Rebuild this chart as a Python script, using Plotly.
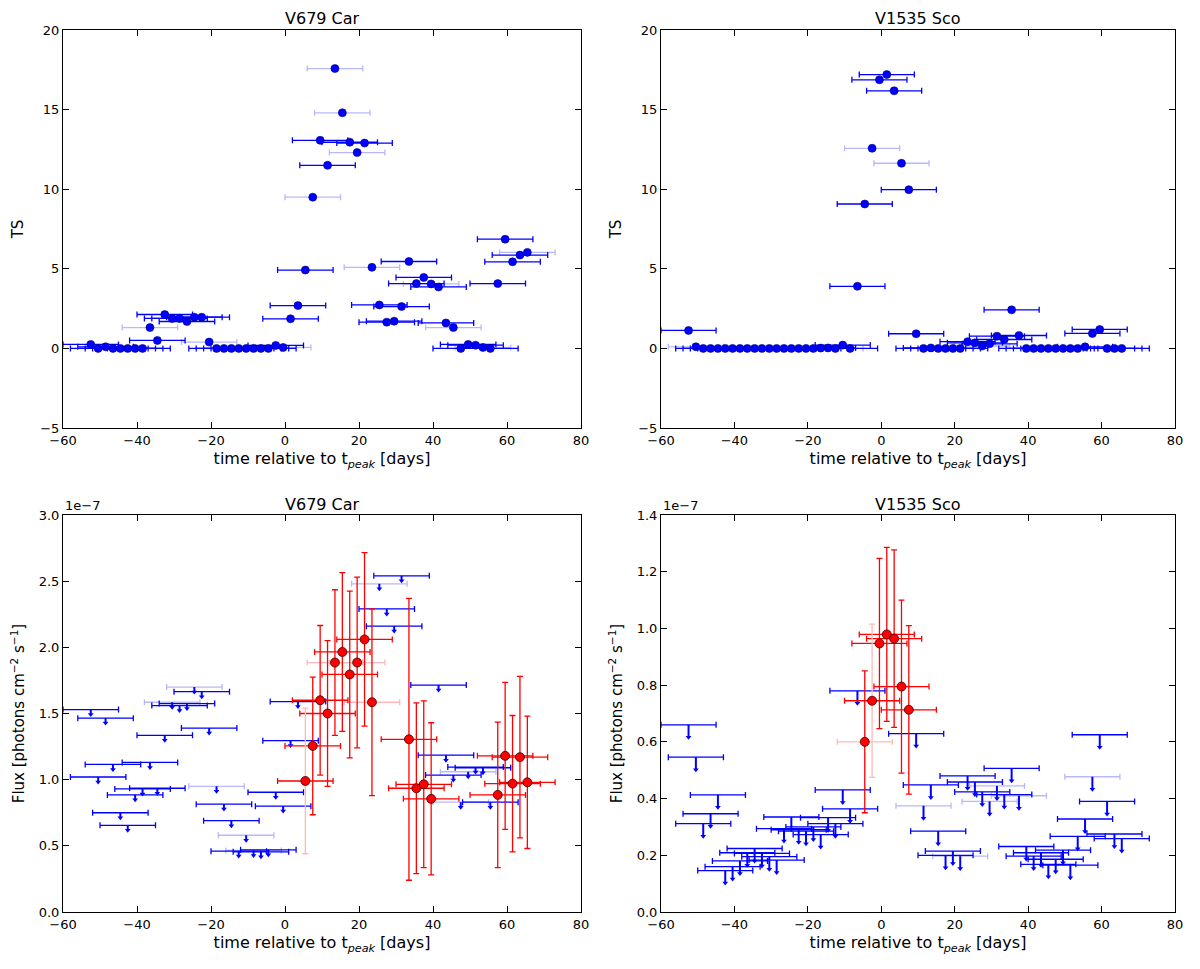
import plotly.graph_objects as go

# time bins (days relative to t_peak), same for both novae
t_bins = [-52.5, -50.5, -48.5, -46.5, -44.5, -42.5, -40.5, -38.5, -36.5, -34.5,
          -32.5, -30.5, -28.5, -26.5, -24.5, -22.5, -20.5, -18.5, -16.5, -14.5,
          -12.5, -10.5, -8.5, -6.5, -4.5, -2.5, -0.5, 1.5, 3.5, 5.5,
          7.5, 9.5, 11.5, 13.5, 15.5, 17.5, 19.5, 21.5, 23.5, 25.5,
          27.5, 29.5, 31.5, 33.5, 35.5, 37.5, 39.5, 41.5, 43.5, 45.5,
          47.5, 49.5, 51.5, 53.5, 55.5, 57.5, 59.5, 61.5, 63.5, 65.5]
half_bin = 7.5

# TS, V679 Car
ts_car = [0.25, 0.0, 0.1, 0.0, 0.0, 0.0, 0.0, 0.0, 1.31, 0.5,
          2.13, 1.88, 1.88, 1.69, 1.96, 1.96, 0.4, 0.0, 0.0, 0.0,
          0.0, 0.0, 0.0, 0.0, 0.0, 0.19, 0.06, 1.86, 2.69, 4.92,
          9.5, 13.07, 11.5, 17.58, 14.8, 12.95, 12.3, 12.9, 5.09, 2.73,
          1.65, 1.71, 2.63, 5.46, 4.07, 4.46, 4.05, 3.86, 1.6, 1.31,
          0.0, 0.25, 0.2, 0.06, 0.0, 4.07, 6.86, 5.44, 5.86, 6.03]
ts_car_light = [-36.5, -20.5, -0.5, 7.5, 13.5, 15.5, 19.5, 23.5, 39.5, 45.5, 53.5, 65.5]

# TS, V1535 Sco
ts_sco = [1.13, 0.1, 0.0, 0.0, 0.0, 0.0, 0.0, 0.0, 0.0, 0.0,
          0.0, 0.0, 0.0, 0.0, 0.0, 0.0, 0.0, 0.0, 0.02, 0.03,
          0.0, 0.21, 0.0, 3.9, 9.07, 12.57, 16.87, 17.2, 16.18, 11.63,
          9.97, 0.92, 0.0, 0.03, 0.0, 0.0, 0.0, 0.0, 0.42, 0.35,
          0.15, 0.29, 0.77, 0.56, 2.42, 0.81, 0.0, 0.0, 0.0, 0.0,
          0.0, 0.0, 0.0, 0.0, 0.1, 0.94, 1.19, 0.0, 0.0, 0.0]
ts_sco_light = [-50.5, -12.5, -2.5, 5.5, 27.5]

# flux, V679 Car (units of 1e-7 ph cm^-2 s^-1)
car_ul_t = [-52.5, -50.5, -48.5, -46.5, -44.5, -42.5, -40.5, -38.5, -36.5, -34.5,
            -32.5, -30.5, -28.5, -26.5, -24.5, -22.5, -20.5, -18.5, -16.5, -14.5,
            -12.5, -10.5, -8.5, -6.5, -4.5, -2.5, -0.5, 1.5, 3.5,
            25.5, 27.5, 29.5, 31.5, 41.5, 43.5, 45.5, 47.5, 49.5, 51.5, 53.5, 55.5]
car_ul = [1.53, 1.02, 1.465, 1.115, 0.75, 0.655, 0.885, 0.93, 1.13, 0.935,
          1.335, 1.585, 1.56, 1.575, 1.70, 1.665, 1.39, 0.95, 0.815, 0.69,
          0.46, 0.58, 0.465, 0.455, 0.47, 0.905, 0.80, 1.295, 1.59,
          2.48, 2.29, 2.16, 2.54, 1.715, 1.185, 1.035, 0.83, 1.06, 1.095, 1.09, 0.83]
car_ul_light = [-30.5, -24.5, -18.5, -10.5, -8.5, 25.5, 47.5, 49.5]

car_det_t = [5.5, 7.5, 9.5, 11.5, 13.5, 15.5, 17.5, 19.5, 21.5, 23.5,
             33.5, 35.5, 37.5, 39.5, 57.5, 59.5, 61.5, 63.5, 65.5]
car_det = [0.99, 1.255, 1.6, 1.5, 1.885, 1.965, 1.795, 1.885, 2.06, 1.585,
           1.305, 0.935, 0.965, 0.855, 0.885, 1.18, 0.97, 1.17, 0.98]
car_det_err = [0.55, 0.52, 0.565, 0.55, 0.55, 0.6, 0.63, 0.645, 0.655, 0.705,
               1.065, 0.645, 0.63, 0.575, 0.55, 0.555, 0.515, 0.61, 0.5]
car_det_light_x = [13.5, 19.5, 23.5]
car_det_light_y = [5.5]

# flux, V1535 Sco
sco_ul_t = [-52.5, -50.5, -48.5, -46.5, -44.5, -42.5, -40.5, -38.5, -36.5, -34.5,
            -32.5, -30.5, -28.5, -26.5, -24.5, -22.5, -20.5, -18.5, -16.5, -14.5,
            -12.5, -10.5, -8.5, -6.5,
            9.5, 11.5, 13.5, 15.5, 17.5, 19.5, 21.5, 23.5, 25.5, 27.5,
            29.5, 31.5, 33.5, 35.5, 37.5, 39.5, 41.5, 43.5, 45.5, 47.5,
            49.5, 51.5, 53.5, 55.5, 57.5, 59.5, 61.5, 63.5, 65.5]
sco_ul = [0.66, 0.546, 0.3115, 0.3465, 0.413, 0.146, 0.16, 0.18, 0.209, 0.224,
          0.2065, 0.195, 0.183, 0.294, 0.335, 0.29, 0.285, 0.30, 0.273, 0.3325,
          0.3115, 0.4305, 0.364, 0.78,
          0.629, 0.3745, 0.448, 0.285, 0.20, 0.215, 0.197, 0.48, 0.4585, 0.4235,
          0.39, 0.4445, 0.414, 0.5065, 0.41, 0.231, 0.197, 0.209, 0.168, 0.186,
          0.218, 0.165, 0.267, 0.328, 0.477, 0.625, 0.39, 0.275, 0.259]
sco_ul_light = [11.5, 21.5, 29.5, 31.5, 37.5, 57.5]

sco_det_t = [-4.5, -2.5, -0.5, 1.5, 3.5, 5.5, 7.5]
sco_det = [0.6, 0.745, 0.947, 0.979, 0.964, 0.795, 0.713]
sco_det_err = [0.25, 0.27, 0.3, 0.307, 0.313, 0.305, 0.297]
sco_det_light_x = [-4.5]
sco_det_light_y = [-2.5]

BLUE = "#0000ff"
LBLUE = "#b8b8fa"
RED = "#ff0000"
LRED = "#ffb8b8"
FONT = "DejaVu Sans"

fig = go.Figure()


def split(ts, vals, light):
    dark = [(t, v) for t, v in zip(ts, vals) if t not in light]
    lite = [(t, v) for t, v in zip(ts, vals) if t in light]
    return dark, lite


def xbars(ax, pts, color, cap=3):
    if not pts:
        return
    fig.add_trace(go.Scatter(
        x=[p[0] for p in pts], y=[p[1] for p in pts], mode="markers",
        marker=dict(size=1, color="rgba(0,0,0,0)"),
        error_x=dict(type="constant", value=half_bin, color=color, thickness=1.3, width=cap),
        xaxis="x" + ax, yaxis="y" + ax, showlegend=False, hoverinfo="skip"))


def ybars(ax, pts, errs, color):
    if not pts:
        return
    fig.add_trace(go.Scatter(
        x=[p[0] for p in pts], y=[p[1] for p in pts], mode="markers",
        marker=dict(size=1, color="rgba(0,0,0,0)"),
        error_y=dict(type="data", array=errs, color=color, thickness=1.3, width=3),
        xaxis="x" + ax, yaxis="y" + ax, showlegend=False, hoverinfo="skip"))


def ts_panel(ax, ts, light):
    dark, lite = split(t_bins, ts, light)
    xbars(ax, lite, LBLUE)
    xbars(ax, dark, BLUE)
    fig.add_trace(go.Scatter(
        x=t_bins, y=ts, mode="markers",
        marker=dict(size=8, color=BLUE, line=dict(color="#00007a", width=0.6)),
        xaxis="x" + ax, yaxis="y" + ax, showlegend=False))


def flux_panel(ax, ul_t, ul, ul_light, stem, det_t, det, det_err, lx, ly):
    dark, lite = split(ul_t, ul, ul_light)
    xbars(ax, lite, LBLUE)
    xbars(ax, dark, BLUE)
    # upper-limit stems and arrow heads
    fig.add_trace(go.Scatter(
        x=ul_t, y=ul, mode="markers", marker=dict(size=1, color="rgba(0,0,0,0)"),
        error_y=dict(type="data", symmetric=False, array=[0] * len(ul),
                     arrayminus=[stem] * len(ul), color=BLUE, thickness=2, width=0),
        xaxis="x" + ax, yaxis="y" + ax, showlegend=False, hoverinfo="skip"))
    fig.add_trace(go.Scatter(
        x=ul_t, y=[u - stem for u in ul], mode="markers",
        marker=dict(symbol="triangle-down", size=5, color=BLUE, line=dict(width=0)),
        xaxis="x" + ax, yaxis="y" + ax, showlegend=False))
    # detections
    dark, lite = split(det_t, det, lx)
    xbars(ax, lite, LRED)
    xbars(ax, dark, RED)
    for grp_light, col in ((True, LRED), (False, RED)):
        sel = [i for i, t in enumerate(det_t) if (t in ly) == grp_light]
        ybars(ax, [(det_t[i], det[i]) for i in sel], [det_err[i] for i in sel], col)
    fig.add_trace(go.Scatter(
        x=det_t, y=det, mode="markers",
        marker=dict(size=9, color=RED, line=dict(color="#3a0000", width=0.8)),
        xaxis="x" + ax, yaxis="y" + ax, showlegend=False))


ts_panel("", ts_car, ts_car_light)
ts_panel("2", ts_sco, ts_sco_light)
flux_panel("3", car_ul_t, car_ul, car_ul_light, 0.0375,
           car_det_t, car_det, car_det_err, car_det_light_x, car_det_light_y)
flux_panel("4", sco_ul_t, sco_ul, sco_ul_light, 0.044,
           sco_det_t, sco_det, sco_det_err, sco_det_light_x, sco_det_light_y)

# the page body adds an 8px offset; work in window pixels and shift
OFF = 8
W, H = 1200 - OFF, 969 - OFF


def px_x(a, b):
    return [(a - OFF) / W, (b - OFF) / W]


def px_y(top, bottom):
    return [1 - (bottom - OFF) / H, 1 - (top - OFF) / H]


def py(y):
    return 1 - (y - OFF) / H


left_dom = px_x(63, 581)
right_dom = px_x(661, 1175)
top_dom = px_y(30, 428)
bot_dom = px_y(515, 912)

xtitle = "time relative to t<sub><i>peak</i></sub> [days]"
flux_title = "Flux [photons cm<sup>\u22122</sup> s<sup>\u22121</sup>]"


def xax(dom, anchor):
    return dict(domain=dom, anchor=anchor, range=[-60, 80], dtick=20, tick0=-60,
                showline=True, linecolor="black", linewidth=1, mirror="ticks",
                ticks="inside", ticklen=6, tickcolor="black", showgrid=False,
                zeroline=False, tickfont=dict(size=13), automargin=False,
                title=dict(text=xtitle, font=dict(size=16), standoff=6))


def yax(dom, anchor, rng, dtick, title, fmt=None, standoff=8):
    d = dict(domain=dom, anchor=anchor, range=rng, dtick=dtick, tick0=rng[0],
             showline=True, linecolor="black", linewidth=1, mirror="ticks",
             ticks="inside", ticklen=6, tickcolor="black", showgrid=False,
             zeroline=False, tickfont=dict(size=13), automargin=False,
             title=dict(text=title, font=dict(size=15), standoff=standoff))
    if fmt:
        d["tickformat"] = fmt
    return d


fig.update_layout(
    width=W, height=H, margin=dict(l=0, r=0, t=0, b=0),
    paper_bgcolor="white", plot_bgcolor="white",
    font=dict(family=FONT, color="black"),
    xaxis=xax(left_dom, "y"), yaxis=yax(top_dom, "x", [-5, 20], 5, "TS", standoff=12),
    xaxis2=xax(right_dom, "y2"), yaxis2=yax(top_dom, "x2", [-5, 20], 5, "TS", standoff=12),
    xaxis3=xax(left_dom, "y3"),
    yaxis3=yax(bot_dom, "x3", [0, 3.0], 0.5, flux_title, ".1f", standoff=10),
    xaxis4=xax(right_dom, "y4"),
    yaxis4=yax(bot_dom, "x4", [0, 1.4], 0.2, flux_title, ".1f", standoff=10),
)

annos = [
    ("V679 Car", (left_dom[0] + left_dom[1]) / 2, py(19)),
    ("V1535 Sco", (right_dom[0] + right_dom[1]) / 2, py(19)),
    ("V679 Car", (left_dom[0] + left_dom[1]) / 2, py(504)),
    ("V1535 Sco", (right_dom[0] + right_dom[1]) / 2, py(504)),
]
for txt, x, y in annos:
    fig.add_annotation(text=txt, x=x, y=y, xref="paper", yref="paper",
                       xanchor="center", yanchor="middle", showarrow=False,
                       font=dict(size=16))
for dom in (left_dom, right_dom):
    fig.add_annotation(text="1e\u22127", x=dom[0], y=py(505),
                       xref="paper", yref="paper", xanchor="left", yanchor="middle",
                       showarrow=False, font=dict(size=13))

fig.write_html("out.html")
